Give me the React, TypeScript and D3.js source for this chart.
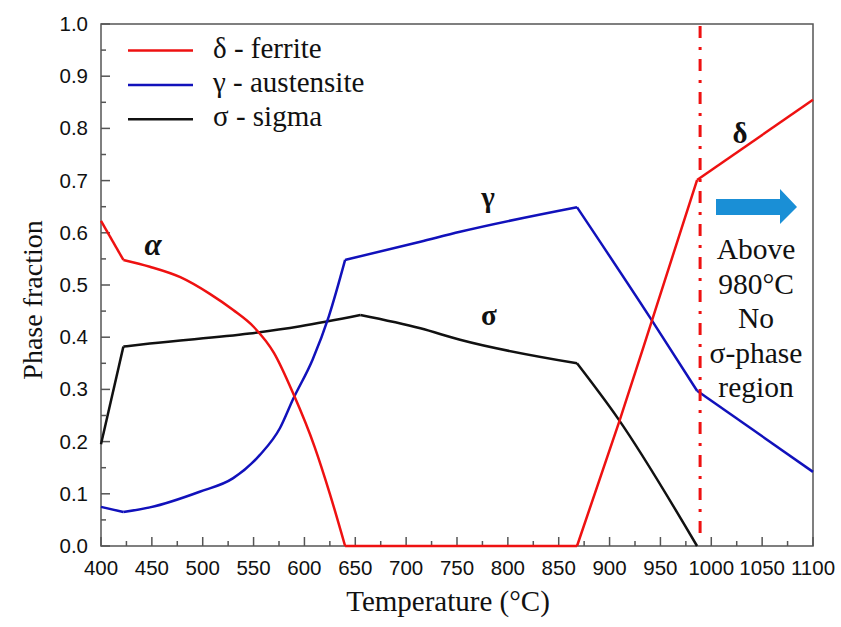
import React from "react";
import * as d3 from "d3";

type Pt = [number, number];

// Phase fractions vs temperature (°C)
const ferrite: Pt[] = [
  [400, 0.623], [422, 0.548], [448, 0.535], [478, 0.515], [507, 0.483],
  [530, 0.452], [550, 0.42], [570, 0.37], [589, 0.292], [610, 0.19],
  [625, 0.1], [640, 0], [868, 0], [910, 0.241], [943, 0.44],
  [986, 0.701], [1100, 0.855],
];
const austenite: Pt[] = [
  [400, 0.075], [422, 0.065], [448, 0.074], [497, 0.104], [530, 0.13],
  [556, 0.174], [576, 0.226], [589, 0.282], [608, 0.357], [624, 0.44],
  [640, 0.548], [714, 0.583], [753, 0.602], [868, 0.649], [940, 0.437],
  [986, 0.2975], [1100, 0.142],
];
const sigma: Pt[] = [
  [400, 0.195], [422, 0.382], [448, 0.388], [546, 0.407], [596, 0.421],
  [655, 0.4425], [714, 0.417], [753, 0.395], [868, 0.35], [908, 0.245],
  [986, 0],
];

// Temperatures where the curves have sharp corners
const ferriteCorners = [422, 640, 868, 986];
const austeniteCorners = [422, 640, 868, 986];
const sigmaCorners = [422, 655, 868];

const xTicks = d3.range(400, 1101, 50);
const yTicks = d3.range(0, 1.001, 0.1);
const legendItems = [
  { label: "δ - ferrite", color: "#ee1111" },
  { label: "γ - austensite", color: "#1111bb" },
  { label: "σ - sigma", color: "#111111" },
];
const noteLines = ["Above", "980°C", "No", "σ-phase", "region"];
const boundaryTemp = 989;

// Split a series into smooth pieces at its corner temperatures
function pieces(data: Pt[], corners: number[]): Pt[][] {
  const out: Pt[][] = [];
  let cur: Pt[] = [];
  data.forEach((p) => {
    cur.push(p);
    if (corners.includes(p[0])) {
      out.push(cur);
      cur = [p];
    }
  });
  if (cur.length > 1) out.push(cur);
  return out;
}

export default function App() {
  const W = 841, H = 627;
  const left = 101, right = 813, top = 24, bottom = 546;
  const x = d3.scaleLinear().domain([400, 1100]).range([left, right]);
  const y = d3.scaleLinear().domain([0, 1]).range([bottom, top]);
  const line = d3.line<Pt>().x((d) => x(d[0])).y((d) => y(d[1])).curve(d3.curveMonotoneX);
  const axisColor = "#555";
  const serif = "Liberation Serif, Times New Roman, DejaVu Serif, serif";
  const sans = "Liberation Sans, Arial, sans-serif";
  const minorX = d3.range(425, 1100, 50);
  const minorY = d3.range(0.05, 1, 0.1);

  const seriesDefs = [
    { data: sigma, corners: sigmaCorners, color: "#111111" },
    { data: austenite, corners: austeniteCorners, color: "#1111bb" },
    { data: ferrite, corners: ferriteCorners, color: "#ee1111" },
  ];

  return (
    <svg width={W} height={H} style={{ position: "absolute", left: 0, top: 0, background: "#fff" }}>
      {/* frame */}
      <rect x={left} y={top} width={right - left} height={bottom - top} fill="none" stroke={axisColor} strokeWidth={1.5} />
      {/* x ticks */}
      {xTicks.map((t) => (
        <g key={"x" + t}>
          <line x1={x(t)} x2={x(t)} y1={bottom} y2={bottom - 9} stroke={axisColor} strokeWidth={1.5} />
          <text x={x(t)} y={bottom + 29} textAnchor="middle" fontFamily={sans} fontSize={20.5} fill="#111">{t}</text>
        </g>
      ))}
      {minorX.map((t) => (
        <line key={"mx" + t} x1={x(t)} x2={x(t)} y1={bottom} y2={bottom - 5} stroke={axisColor} strokeWidth={1.5} />
      ))}
      {/* y ticks */}
      {yTicks.map((t) => (
        <g key={"y" + t}>
          <line x1={left} x2={left + 9} y1={y(t)} y2={y(t)} stroke={axisColor} strokeWidth={1.5} />
          <text x={left - 13} y={y(t) + 7} textAnchor="end" fontFamily={sans} fontSize={20.5} fill="#111">{t.toFixed(1)}</text>
        </g>
      ))}
      {minorY.map((t) => (
        <line key={"my" + t} x1={left} x2={left + 5} y1={y(t)} y2={y(t)} stroke={axisColor} strokeWidth={1.5} />
      ))}
      {/* axis titles */}
      <text x={448} y={611} textAnchor="middle" fontFamily={serif} fontSize={29} fill="#111">Temperature (°C)</text>
      <text transform="translate(42,300) rotate(-90)" textAnchor="middle" fontFamily={serif} fontSize={28} fill="#111">Phase fraction</text>

      {/* series */}
      {seriesDefs.map((s, i) =>
        pieces(s.data, s.corners).map((seg, j) => (
          <path key={i + "-" + j} d={line(seg) ?? ""} fill="none" stroke={s.color} strokeWidth={2.5} strokeLinejoin="round" />
        ))
      )}

      {/* boundary line */}
      <line x1={x(boundaryTemp)} x2={x(boundaryTemp)} y1={top + 2} y2={bottom - 5} stroke="#ee1111" strokeWidth={3} strokeDasharray="12,9,3,9" />

      {/* phase labels */}
      <text x={153} y={255} textAnchor="middle" fontFamily={serif} fontSize={31} fontWeight="bold" fontStyle="italic" fill="#111">α</text>
      <text x={488} y={207} textAnchor="middle" fontFamily={serif} fontSize={29} fontWeight="bold" fill="#111">γ</text>
      <text x={489} y={325} textAnchor="middle" fontFamily={serif} fontSize={29} fontWeight="bold" fill="#111">σ</text>
      <text x={740} y={143} textAnchor="middle" fontFamily={serif} fontSize={29} fontWeight="bold" fill="#111">δ</text>

      {/* arrow */}
      <path d="M716,199 L780,199 L780,189 L797,207 L780,224 L780,215 L716,215 Z" fill="#1a8fd6" />
      {noteLines.map((s, i) => (
        <text key={s} x={756} y={259 + i * 34.5} textAnchor="middle" fontFamily={serif} fontSize={29.5} fill="#111">{s}</text>
      ))}

      {/* legend */}
      {legendItems.map((d, i) => (
        <g key={d.label}>
          <line x1={128} x2={193} y1={50.5 + i * 34.4} y2={50.5 + i * 34.4} stroke={d.color} strokeWidth={2.5} />
          <text x={213} y={57.5 + i * 34.4} fontFamily={serif} fontSize={29} fill="#111">{d.label}</text>
        </g>
      ))}
    </svg>
  );
}
